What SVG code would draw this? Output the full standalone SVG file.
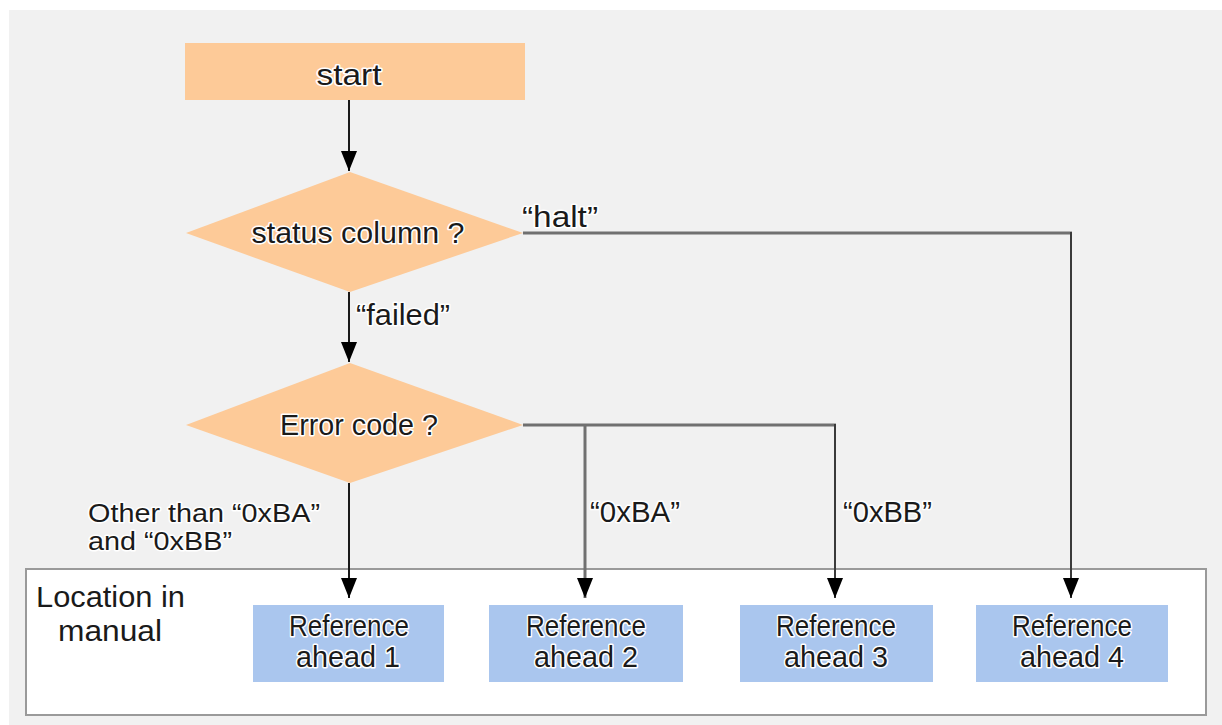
<svg xmlns="http://www.w3.org/2000/svg" width="1222" height="725" viewBox="0 0 1222 725">
<defs>
<style>
.t{font-family:"Liberation Sans",Arial,sans-serif;font-size:29px;fill:#1a1a1a;stroke:#fff;stroke-width:3px;stroke-linejoin:round;paint-order:stroke}
.s{font-size:26px}
.c{text-anchor:middle}
.orange{fill:#fdca98}
.blue{fill:#aac6ee}
.k{stroke:#1a1a1a;stroke-width:2;fill:none}
.g{stroke:#707070;stroke-width:3;fill:none}
.d{stroke:#3a3a3a;stroke-width:2;fill:none}
</style>
<marker id="ah" viewBox="0 0 20 16" refX="20" refY="8" markerWidth="20" markerHeight="16" markerUnits="userSpaceOnUse" orient="auto">
<path d="M0,0 L20,8 L0,16 Z" fill="#000"/>
</marker>
</defs>
<rect x="0" y="0" width="1222" height="725" fill="#fff"/>
<rect x="9" y="10" width="1213" height="715" fill="#f1f1f1"/>
<g id="location">
<rect x="26" y="569" width="1180" height="146" fill="#fff" stroke="#9a9a9a" stroke-width="2"/>
<text class="t" x="36" y="607" textLength="149" lengthAdjust="spacingAndGlyphs">Location in</text>
<text class="t" x="58" y="641" textLength="104" lengthAdjust="spacingAndGlyphs">manual</text>
</g>
<g id="connectors">
<line class="k" x1="349" y1="100" x2="349" y2="171" marker-end="url(#ah)"/>
<line class="k" x1="349" y1="292" x2="349" y2="362" marker-end="url(#ah)"/>
<line class="g" x1="523" y1="233" x2="1072" y2="233"/>
<line class="d" x1="1071" y1="232" x2="1071" y2="598" marker-end="url(#ah)"/>
<line class="g" x1="523" y1="425" x2="836" y2="425"/>
<line class="g" x1="585" y1="425" x2="585" y2="598" marker-end="url(#ah)"/>
<line class="d" x1="835" y1="424" x2="835" y2="598" marker-end="url(#ah)"/>
<line class="k" x1="349" y1="483" x2="349" y2="598" marker-end="url(#ah)"/>
<text class="t" x="522" y="227" textLength="76" lengthAdjust="spacingAndGlyphs">“halt”</text>
<text class="t" x="356" y="325" textLength="94" lengthAdjust="spacingAndGlyphs">“failed”</text>
<text class="t s" x="88" y="522" textLength="232" lengthAdjust="spacingAndGlyphs">Other than “0xBA”</text>
<text class="t s" x="88" y="550" textLength="144" lengthAdjust="spacingAndGlyphs">and “0xBB”</text>
<text class="t" x="590" y="522" textLength="90" lengthAdjust="spacingAndGlyphs">“0xBA”</text>
<text class="t" x="843" y="522" textLength="89" lengthAdjust="spacingAndGlyphs">“0xBB”</text>
</g>
<g id="start">
<rect class="orange" x="185" y="43" width="340" height="57"/>
<text class="t c" x="349" y="85" textLength="65" lengthAdjust="spacingAndGlyphs">start</text>
</g>
<g id="status">
<polygon class="orange" points="350,172 523,233 350,292 186,233"/>
<text class="t c" x="358" y="243" textLength="213" lengthAdjust="spacingAndGlyphs">status column ?</text>
</g>
<g id="error">
<polygon class="orange" points="350,363 523,425 350,483 186,425"/>
<text class="t c" x="359" y="435" textLength="158" lengthAdjust="spacingAndGlyphs">Error code ?</text>
</g>
<g id="ref1">
<rect class="blue" x="253" y="605" width="191" height="77"/>
<text class="t c" x="349" y="636" textLength="120" lengthAdjust="spacingAndGlyphs">Reference</text>
<text class="t c" x="348" y="667" textLength="104" lengthAdjust="spacingAndGlyphs">ahead 1</text>
</g>
<g id="ref2">
<rect class="blue" x="489" y="605" width="194" height="77"/>
<text class="t c" x="586" y="636" textLength="120" lengthAdjust="spacingAndGlyphs">Reference</text>
<text class="t c" x="586" y="667" textLength="104" lengthAdjust="spacingAndGlyphs">ahead 2</text>
</g>
<g id="ref3">
<rect class="blue" x="740" y="605" width="193" height="77"/>
<text class="t c" x="836" y="636" textLength="120" lengthAdjust="spacingAndGlyphs">Reference</text>
<text class="t c" x="836" y="667" textLength="104" lengthAdjust="spacingAndGlyphs">ahead 3</text>
</g>
<g id="ref4">
<rect class="blue" x="976" y="605" width="192" height="77"/>
<text class="t c" x="1072" y="636" textLength="120" lengthAdjust="spacingAndGlyphs">Reference</text>
<text class="t c" x="1072" y="667" textLength="104" lengthAdjust="spacingAndGlyphs">ahead 4</text>
</g>
</svg>
